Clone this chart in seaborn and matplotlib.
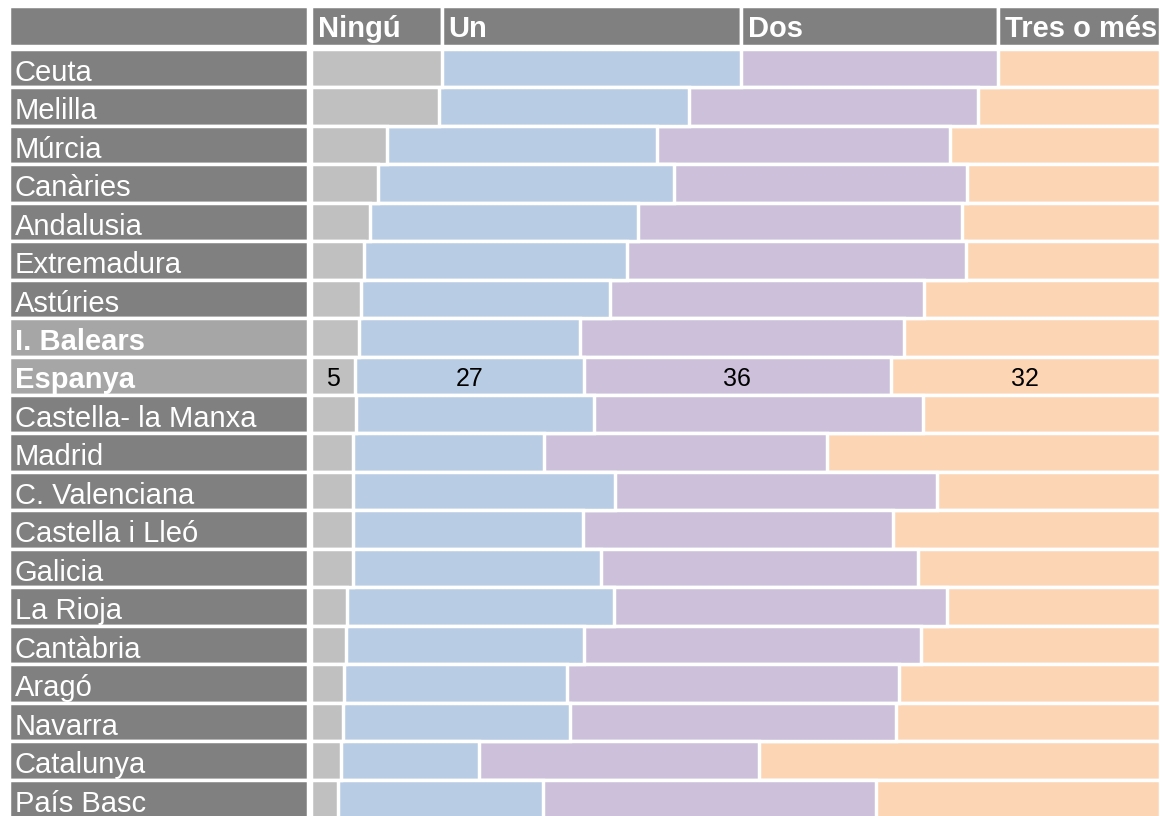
import matplotlib
matplotlib.use("Agg")
import matplotlib.pyplot as plt
import seaborn as sns
import numpy as np

# Households by number of vehicles, % per region
regions = ["Ceuta", "Melilla", "Múrcia", "Canàries", "Andalusia", "Extremadura",
           "Astúries", "I. Balears", "Espanya", "Castella- la Manxa", "Madrid",
           "C. Valenciana", "Castella i Lleó", "Galicia", "La Rioja", "Cantàbria",
           "Aragó", "Navarra", "Catalunya", "País Basc"]
ningu = [15.4, 15.1, 8.9, 7.9, 7.0, 6.2, 5.9, 5.6, 5.2, 5.3,
         5.0, 5.0, 5.0, 4.9, 4.2, 4.1, 3.9, 3.8, 3.5, 3.2]
un = [35.3, 29.4, 31.8, 34.8, 31.5, 31.0, 29.3, 26.1, 26.9, 28.0,
      22.4, 30.8, 27.0, 29.2, 31.5, 28.1, 26.3, 26.7, 16.3, 24.1]
dos = [30.2, 34.1, 34.6, 34.6, 38.2, 40.0, 37.0, 38.1, 36.2, 38.8,
       33.4, 37.9, 36.5, 37.4, 39.2, 39.7, 39.0, 38.4, 33.0, 39.3]
tres = [19.1, 21.4, 24.7, 22.7, 23.3, 22.8, 27.8, 30.2, 31.7, 27.9,
        39.2, 26.3, 31.5, 28.5, 25.1, 28.1, 30.8, 31.1, 47.2, 33.4]
columns = ["Ningú", "Un", "Dos", "Tres o més"]
seg_colors = ["#C0C0C0", "#B8CCE4", "#CCC0DA", "#FCD5B4"]
highlight = ["I. Balears", "Espanya"]
labelled = "Espanya"

sns.set_theme(style="white")
plt.rcParams["font.family"] = ["Liberation Sans", "DejaVu Sans"]

W, H = 1160, 816
fig = plt.figure(figsize=(W / 100, H / 100), dpi=100)
fig.patch.set_facecolor("white")


def px_axes(x0, y0, x1, y1):
    ax = fig.add_axes([x0 / W, 1 - y1 / H, (x1 - x0) / W, (y1 - y0) / H])
    ax.set_facecolor("none")
    return ax


# row geometry (pixels)
pitch = 38.47
first_center = 68
ylim = ((H - first_center) / pitch, -first_center / pitch)
edge_lw = 2.5
head_gray = "#808080"
light_gray = "#A6A6A6"

segs = np.array([ningu, un, dos, tres])
cum = segs.cumsum(axis=0)

# stacked bars: draw cumulative totals from the widest down
ax_bar = px_axes(311, 0, 1160, H)
for k in range(3, -1, -1):
    sns.barplot(x=cum[k], y=regions, orient="h", color=seg_colors[k], saturation=1,
                width=1, edgecolor="white", linewidth=edge_lw, errorbar=None, ax=ax_bar)
ax_bar.set_xlim(0, 100)
ax_bar.set_ylim(*ylim)
ax_bar.set_axis_off()

# value labels for Espanya
idx = regions.index(labelled)
for k in range(4):
    xc = cum[k, idx] - segs[k, idx] / 2
    ax_bar.text(xc, idx + 0.27, f"{segs[k, idx]:.0f}", ha="center", va="baseline",
                fontsize=18, color="black")

# region label column
ax_lab = px_axes(9, 0, 308, H)
lab_colors = [light_gray if r in highlight else head_gray for r in regions]
ax_lab.barh(range(len(regions)), 1, height=1, color=lab_colors,
            edgecolor="white", linewidth=edge_lw)
for i, r in enumerate(regions):
    ax_lab.text(0.02, i + 0.33, r, ha="left", va="baseline", fontsize=21, color="white",
                fontweight="bold" if r in highlight else "normal")
ax_lab.set_xlim(0, 1)
ax_lab.set_ylim(*ylim)
ax_lab.set_axis_off()

# header row: column widths follow the first table row
ax_hl = px_axes(9, 6, 308, 46)
ax_hl.barh(0, 1, height=1, color=head_gray, edgecolor="white", linewidth=edge_lw)
ax_hl.set_xlim(0, 1)
ax_hl.set_ylim(0.5, -0.5)
ax_hl.set_axis_off()

ax_hb = px_axes(311, 6, 1160, 46)
starts = cum[:, 0] - segs[:, 0]
ax_hb.barh(0, segs[:, 0], left=starts, height=1, color=head_gray,
           edgecolor="white", linewidth=edge_lw)
for s, name in zip(starts, columns):
    ax_hb.annotate(name, xy=(s, 0.275), xytext=(5, 0), textcoords="offset points",
                   ha="left", va="baseline", fontsize=21, fontweight="bold", color="white")
ax_hb.set_xlim(0, 100)
ax_hb.set_ylim(0.5, -0.5)
ax_hb.set_axis_off()

fig.savefig("out.png", dpi=100)
